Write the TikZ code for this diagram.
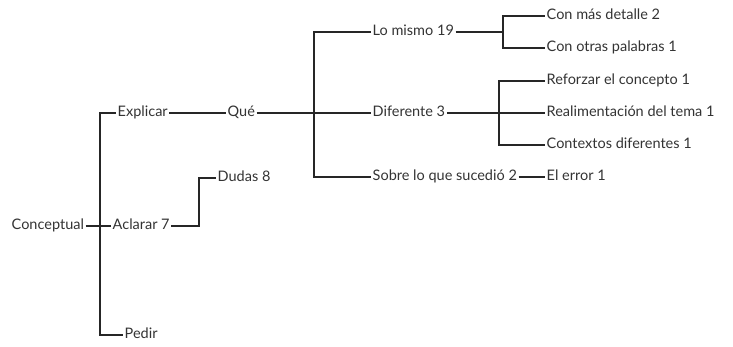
\documentclass[tikz,border=0pt]{standalone}
\usepackage{fontspec}
\setmainfont{Lato}
\begin{document}
\begin{tikzpicture}[x=1pt,y=-1pt,
  lbl/.style={anchor=west,inner sep=1.5pt,text height=10pt,text depth=2.5pt,text=black!80,font=\fontsize{14.5}{16}\selectfont},
  conn/.style={draw=black!85,line width=1.1pt}]
\useasboundingbox (0,0) rectangle (733,347);
\node[lbl] (C) at (10,226) {Conceptual};
\node[lbl] (E) at (116,113) {Explicar};
\node[lbl] (A) at (111,226) {Aclarar 7};
\node[lbl] (P) at (123,335) {Pedir};
\node[lbl] (Q) at (226,113) {Qué};
\node[lbl] (D8) at (216,178) {Dudas 8};
\node[lbl] (LM) at (371,32) {Lo mismo 19};
\node[lbl] (D3) at (371,113) {Diferente 3};
\node[lbl] (S) at (371,177) {Sobre lo que sucedió 2};
\node[lbl] (CM) at (545,16) {Con más detalle 2};
\node[lbl] (CO) at (545,48) {Con otras palabras 1};
\node[lbl] (RC) at (545,81) {Reforzar el concepto 1};
\node[lbl] (RT) at (545,113) {Realimentación del tema 1};
\node[lbl] (CD) at (545,145) {Contextos diferentes 1};
\node[lbl] (ER) at (545,177) {El error 1};
\coordinate (j1) at (100,0);
\coordinate (j2) at (199,0);
\coordinate (j3) at (314,0);
\coordinate (j4) at (503,0);
\coordinate (j5) at (499,0);
% Conceptual
\draw[conn] (C.east) -- (A.west);
\draw[conn] (C.east -| j1) |- (E.west);
\draw[conn] (C.east -| j1) |- (P.west);
% Explicar
\draw[conn] (E.east) -- (Q.west);
% Aclarar
\draw[conn] (A.east) -| (j2 |- D8.west) -- (D8.west);
% Qué
\draw[conn] (Q.east) -- (D3.west);
\draw[conn] (Q.east -| j3) |- (LM.west);
\draw[conn] (Q.east -| j3) |- (S.west);
% Lo mismo
\draw[conn] (LM.east) -- (LM.east -| j4);
\draw[conn] (LM.east -| j4) |- (CM.west);
\draw[conn] (LM.east -| j4) |- (CO.west);
% Diferente
\draw[conn] (D3.east) -- (RT.west);
\draw[conn] (D3.east -| j5) |- (RC.west);
\draw[conn] (D3.east -| j5) |- (CD.west);
% Sobre
\draw[conn] (S.east) -- (ER.west);
\end{tikzpicture}
\end{document}
